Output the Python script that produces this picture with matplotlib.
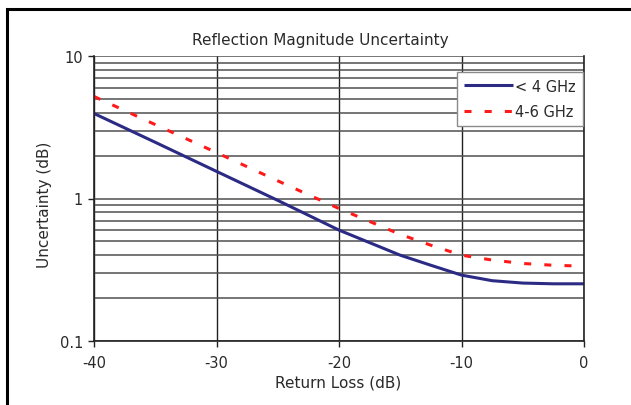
import matplotlib
matplotlib.use('Agg')
import matplotlib.pyplot as plt
from matplotlib.patches import Rectangle
from matplotlib.ticker import LogLocator, NullFormatter, FixedLocator

# values
return_loss = [-40, -35, -30, -25, -20, -15, -12.5, -10, -7.5, -5, -2.5, 0]
below_4ghz = [3.95, 2.48, 1.55, 0.97, 0.60, 0.40, 0.34, 0.29, 0.265, 0.255, 0.252, 0.252]
band_4_6ghz = [5.2, 3.3, 2.1, 1.33, 0.85, 0.56, 0.47, 0.40, 0.37, 0.35, 0.34, 0.335]
series_labels = ['< 4 GHz', '4-6 GHz']
x_ticks = [-40, -30, -20, -10, 0]
y_ticks = [0.1, 1, 10]
y_ticklabels = ['0.1', '1', '10']

plt.rcParams['font.family'] = ['DejaVu Sans']
plt.rcParams['font.size'] = 10.5
TXT = '#2a2a2a'

fig = plt.figure(figsize=(6.31, 4.06), dpi=100)
W, H = 631, 406
ax = fig.add_axes([94 / W, 1 - 342 / H, (584 - 94) / W, (342 - 57) / H])

# outer frame
fig.patches.append(Rectangle((7 / W, -0.05), 1.2, 1 - 10 / H + 0.05,
                             transform=fig.transFigure, fill=False,
                             edgecolor='black', linewidth=2.2))

ax.set_yscale('log')
ax.set_xlim(-40, 0)
ax.set_ylim(0.1, 10)

ax.yaxis.set_major_locator(FixedLocator(y_ticks))
ax.set_yticklabels(y_ticklabels)
ax.yaxis.set_minor_locator(LogLocator(base=10, subs=range(2, 10)))
ax.yaxis.set_minor_formatter(NullFormatter())
ax.set_xticks(x_ticks)
ax.set_xticklabels([str(t) for t in x_ticks])

ax.grid(True, which='both', axis='y', color='#505050', linewidth=1.1)
ax.grid(True, which='major', axis='x', color='#222222', linewidth=1.0)
ax.set_axisbelow(True)

ax.plot(return_loss, below_4ghz, color='#2b2b85', linewidth=2.2,
        label=series_labels[0], solid_capstyle='butt')
ax.plot(return_loss, band_4_6ghz, color='#ff1a1a', linewidth=2.2,
        dashes=(2.3, 4.3), label=series_labels[1])

ax.spines['top'].set_visible(False)
for side in ['left', 'bottom', 'right']:
    ax.spines[side].set_color('#222222')
    ax.spines[side].set_linewidth(1.2)

ax.tick_params(axis='both', which='major', length=4, width=1, color='#222222',
               labelcolor=TXT, labelsize=10.5)
ax.tick_params(axis='x', pad=6)
ax.tick_params(axis='y', pad=4)
ax.tick_params(axis='y', which='minor', length=0)

leg = ax.legend(loc='upper right', bbox_to_anchor=(0.997, 0.944), frameon=True,
                fancybox=False, edgecolor='#8a8a8a', framealpha=1,
                handlelength=3.4, handletextpad=0.15, borderpad=0.45,
                labelspacing=0.75, fontsize=10.5, borderaxespad=0)
leg.get_frame().set_linewidth(1.0)
for t in leg.get_texts():
    t.set_color(TXT)

fig.text(320 / W, 1 - 40 / H, 'Reflection Magnitude Uncertainty', ha='center',
         va='center', fontsize=11, color=TXT)
fig.text(338 / W, 1 - 383 / H, 'Return Loss (dB)', ha='center', va='center',
         fontsize=11, color=TXT)
fig.text(45 / W, 1 - 205 / H, 'Uncertainty (dB)', ha='center', va='center',
         rotation=90, fontsize=11, color=TXT)

fig.savefig('out.png', dpi=100)
